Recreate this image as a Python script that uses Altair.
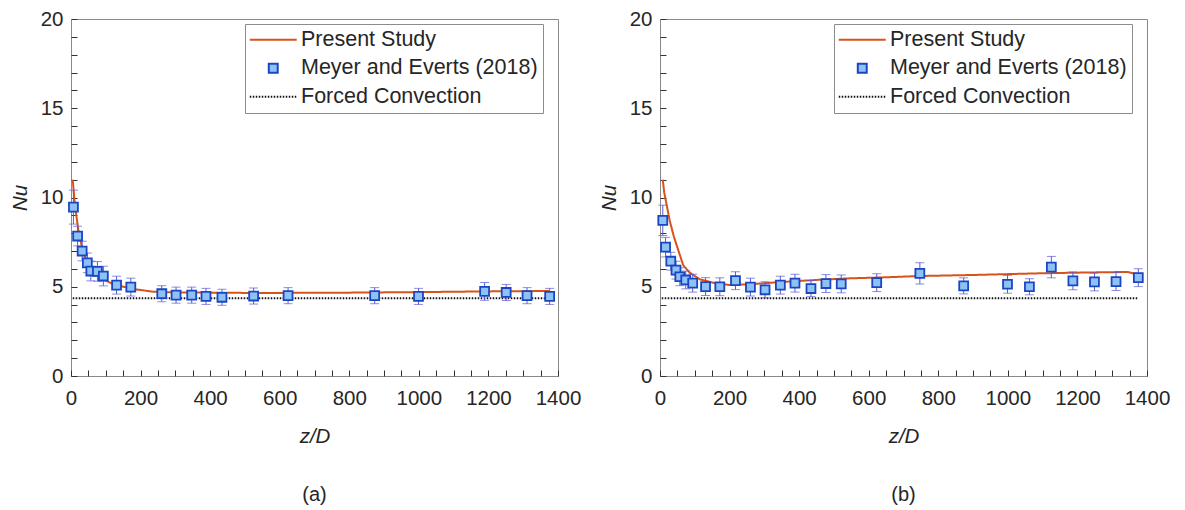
import altair as alt
import pandas as pd

SERIES = ["Present Study", "Meyer and Everts (2018)", "Forced Convection"]
SERIES_COLORS = ["#D95319", "#1A46C4", "#111111"]

# Panel (a) experimental points
a_z = [7, 19, 32, 47, 57, 76, 93, 131, 172, 261, 302, 347, 388, 434, 525, 624, 873, 999, 1189, 1251, 1311, 1376]
a_nu = [9.46, 7.84, 7.0, 6.34, 5.88, 5.86, 5.6, 5.09, 4.98, 4.61, 4.53, 4.53, 4.46, 4.41, 4.48, 4.5, 4.5, 4.46, 4.74, 4.68, 4.5, 4.46]
a_err = [0.95, 0.55, 0.55, 0.55, 0.55, 0.55, 0.55, 0.5, 0.5, 0.45, 0.45, 0.45, 0.45, 0.45, 0.45, 0.45, 0.45, 0.45, 0.5, 0.45, 0.45, 0.45]
# Panel (a) present study curve
a_line_z = [5, 11, 21, 35, 55, 83, 122, 179, 237, 304, 544, 800, 1000, 1200, 1375]
a_line_nu = [11.0, 9.6, 8.2, 6.9, 6.0, 5.5, 5.14, 4.87, 4.72, 4.68, 4.65, 4.67, 4.7, 4.74, 4.76]

# Panel (b) experimental points
b_z = [8, 16, 31, 46, 57, 74, 94, 131, 172, 217, 260, 302, 346, 388, 434, 477, 521, 623, 747, 873, 999, 1062, 1125, 1187, 1249, 1311, 1375]
b_nu = [8.72, 7.22, 6.43, 5.93, 5.56, 5.38, 5.2, 5.01, 5.0, 5.34, 4.98, 4.83, 5.09, 5.2, 4.9, 5.18, 5.16, 5.23, 5.75, 5.05, 5.14, 5.0, 6.1, 5.33, 5.27, 5.29, 5.51]
b_err = [0.85, 0.55, 0.5, 0.5, 0.5, 0.5, 0.5, 0.5, 0.5, 0.5, 0.5, 0.45, 0.5, 0.5, 0.45, 0.5, 0.5, 0.5, 0.6, 0.45, 0.5, 0.45, 0.6, 0.5, 0.5, 0.5, 0.5]
# Panel (b) present study curve
b_line_z = [8, 12, 19, 28, 40, 55, 67, 85, 114, 162, 200, 258, 353, 448, 544, 650, 744, 900, 1087, 1200, 1307, 1345, 1375]
b_line_nu = [11.0, 10.3, 9.6, 8.7, 7.8, 6.9, 6.2, 5.8, 5.42, 5.18, 5.1, 5.14, 5.27, 5.38, 5.47, 5.53, 5.6, 5.66, 5.75, 5.79, 5.82, 5.82, 5.69]

# Forced convection reference
forced_z = [5, 1375]
forced_nu = 4.36

# Axis ticks
x_ticks = list(range(0, 1401, 50))
y_ticks = list(range(0, 21, 1))

FONT = "Liberation Sans"
TXT = "#262626"
ERR = "#5A5AD6"
TICK = 6
# legend/point symbols (custom paths so the line sample is long while rows stay compact)
LINE_SYM = "M-3,0L3,0"
SQUARE = "M-0.57,-0.57L0.57,-0.57L0.57,0.57L-0.57,0.57Z"


def panel(pz, pnu, perr, lz, lnu, caption):
    pts = pd.DataFrame({"z": pz, "nu": pnu,
                        "lo": [n - e for n, e in zip(pnu, perr)],
                        "hi": [n + e for n, e in zip(pnu, perr)],
                        "series": SERIES[1]})
    lines = pd.concat([
        pd.DataFrame({"z": forced_z, "nu": [forced_nu] * len(forced_z), "series": SERIES[2]}),
        pd.DataFrame({"z": lz, "nu": lnu, "series": SERIES[0]}),
    ])

    xs = alt.Scale(domain=[0, 1400], nice=False, zero=False)
    ys = alt.Scale(domain=[0, 20], nice=False)
    common = dict(labelOverlap=False, labelFlush=False, ticks=True, tickSize=TICK, tickWidth=1,
                  tickColor="#333333", tickOpacity=1, offset=-TICK, domain=False, grid=False,
                  format="d")
    xaxis = alt.Axis(values=x_ticks, labelExpr="datum.value % 200 == 0 ? datum.label : ''",
                     title="z/D", labelPadding=12, titlePadding=18, **common)
    yaxis = alt.Axis(values=y_ticks, labelExpr="datum.value % 5 == 0 ? datum.label : ''",
                     title="Nu", labelPadding=8, titlePadding=10, **common)

    leg = alt.Legend(title=None, orient="none", legendX=174, legendY=5, symbolSize=245,
                     symbolStrokeWidth=2, symbolFillColor="#8EC2F5", symbolOffset=12.5,
                     labelFont=FONT, labelFontSize=21.5, labelColor=TXT, labelLimit=400,
                     labelOffset=17, padding=5, rowPadding=5.5, strokeColor="#8C8C8C",
                     fillColor="white", cornerRadius=0)
    color = alt.Color("series:N", scale=alt.Scale(domain=SERIES, range=SERIES_COLORS), legend=leg)
    dash = alt.StrokeDash("series:N", scale=alt.Scale(domain=SERIES, range=[[1, 0], [1, 0], [1.5, 1.5]]), legend=leg)
    shape = alt.Shape("series:N", scale=alt.Scale(domain=SERIES, range=[LINE_SYM, SQUARE, LINE_SYM]), legend=leg)

    X = alt.X("z:Q", scale=xs, axis=xaxis)

    line_layer = alt.Chart(lines).mark_line(strokeWidth=2).encode(
        x=X, y=alt.Y("nu:Q", scale=ys, axis=yaxis), color=color, strokeDash=dash, order=alt.Order("z:Q"))
    err_rule = alt.Chart(pts).mark_rule(color=ERR, strokeWidth=1).encode(
        x=X, y=alt.Y("lo:Q", scale=ys, axis=yaxis), y2="hi:Q")
    err_lo = alt.Chart(pts).mark_tick(color=ERR, orient="horizontal", size=9, thickness=1).encode(
        x=X, y=alt.Y("lo:Q", scale=ys, axis=yaxis))
    err_hi = alt.Chart(pts).mark_tick(color=ERR, orient="horizontal", size=9, thickness=1).encode(
        x=X, y=alt.Y("hi:Q", scale=ys, axis=yaxis))
    pt_layer = alt.Chart(pts).mark_point(filled=True, fill="#8EC2F5", stroke="#1A46C4",
                                         strokeWidth=1.8, size=245, opacity=1).encode(
        x=X, y=alt.Y("nu:Q", scale=ys, axis=yaxis), shape=shape)

    return alt.layer(line_layer, err_rule, err_lo, err_hi, pt_layer).properties(
        width=487, height=357,
        title=alt.TitleParams(caption, orient="bottom", frame="group", anchor="middle",
                              font=FONT, fontSize=20, fontWeight="normal", color=TXT, offset=38))


pa = panel(a_z, a_nu, a_err, a_line_z, a_line_nu, "(a)")
pb = panel(b_z, b_nu, b_err, b_line_z, b_line_nu, "(b)")

chart = alt.hconcat(pa, pb, spacing=16, padding={"left": 1, "top": 0, "right": 0, "bottom": 0}).resolve_scale(
    color="independent", shape="independent", strokeDash="independent"
).configure_view(stroke="#8A8A8A", strokeWidth=1).configure_axis(
    labelFont=FONT, labelFontSize=20.5, labelColor=TXT, titleFont=FONT, titleFontSize=20.5,
    titleFontStyle="italic", titleFontWeight="normal", titleColor=TXT
)

chart.save("out.html", embed_options={"renderer": "svg", "actions": False})
